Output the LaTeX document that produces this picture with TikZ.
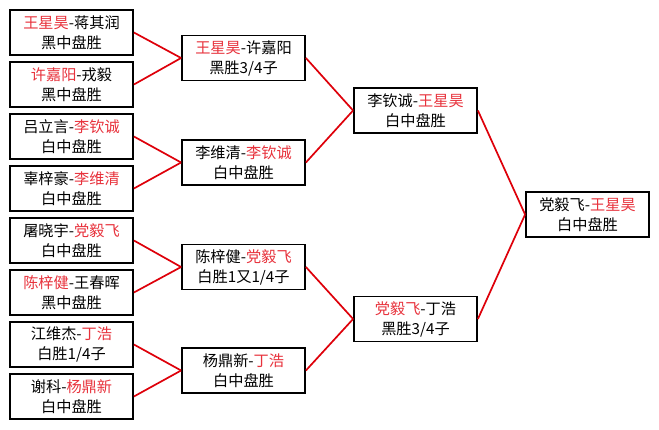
\documentclass[tikz,border=0pt]{standalone}
\usepackage{fontspec}
\newfontfamily\cjk{Noto Sans CJK SC}
\definecolor{winred}{RGB}{232,50,60}
\definecolor{linered}{RGB}{222,0,10}
\tikzset{
  box/.style={draw=black, line width=1.8pt, fill=white, minimum width=123pt, minimum height=45pt,
    inner sep=0pt, align=center, font=\cjk\fontsize{15.2}{20}\selectfont},
  link/.style={draw=linered, line width=1.7pt}
}
\newcommand{\w}[1]{\textcolor{winred}{#1}}
\begin{document}
\begin{tikzpicture}[x=1pt,y=1pt]
\fill[white] (0,0) rectangle (659,429);
\useasboundingbox (0,0) rectangle (659,429);
% round 1
\node[box] (b1) at (71.5,396.5) {\w{王星昊}-蒋其润\\黑中盘胜};
\node[box] (b2) at (71.5,344.5) {\w{许嘉阳}-戎毅\\黑中盘胜};
\node[box] (b3) at (71.5,292.5) {吕立言-\w{李钦诚}\\白中盘胜};
\node[box] (b4) at (71.5,240.5) {辜梓豪-\w{李维清}\\白中盘胜};
\node[box] (b5) at (71.5,188.5) {屠晓宇-\w{党毅飞}\\白中盘胜};
\node[box] (b6) at (71.5,136.5) {\w{陈梓健}-王春晖\\黑中盘胜};
\node[box] (b7) at (71.5,84.5) {江维杰-\w{丁浩}\\白胜1/4子};
\node[box] (b8) at (71.5,32.5) {谢科-\w{杨鼎新}\\白中盘胜};
% round 2
\node[box] (qa) at (243.5,371) {\w{王星昊}-许嘉阳\\黑胜3/4子};
\node[box] (qb) at (243.5,266.5) {李维清-\w{李钦诚}\\白中盘胜};
\node[box] (qc) at (243.5,162) {陈梓健-\w{党毅飞}\\白胜1又1/4子};
\node[box] (qd) at (243.5,58.5) {杨鼎新-\w{丁浩}\\白中盘胜};
% semifinals
\node[box] (sa) at (415.5,318.5) {李钦诚-\w{王星昊}\\白中盘胜};
\node[box] (sb) at (415.5,110) {\w{党毅飞}-丁浩\\黑胜3/4子};
% final
\node[box] (fn) at (587.5,214.5) {党毅飞-\w{王星昊}\\白中盘胜};
% connectors
\draw[link] (b1.east) -- (qa.west);
\draw[link] (b2.east) -- (qa.west);
\draw[link] (b3.east) -- (qb.west);
\draw[link] (b4.east) -- (qb.west);
\draw[link] (b5.east) -- (qc.west);
\draw[link] (b6.east) -- (qc.west);
\draw[link] (b7.east) -- (qd.west);
\draw[link] (b8.east) -- (qd.west);
\draw[link] (qa.east) -- (sa.west);
\draw[link] (qb.east) -- (sa.west);
\draw[link] (qc.east) -- (sb.west);
\draw[link] (qd.east) -- (sb.west);
\draw[link] (sa.east) -- (fn.west);
\draw[link] (sb.east) -- (fn.west);
\end{tikzpicture}
\end{document}
